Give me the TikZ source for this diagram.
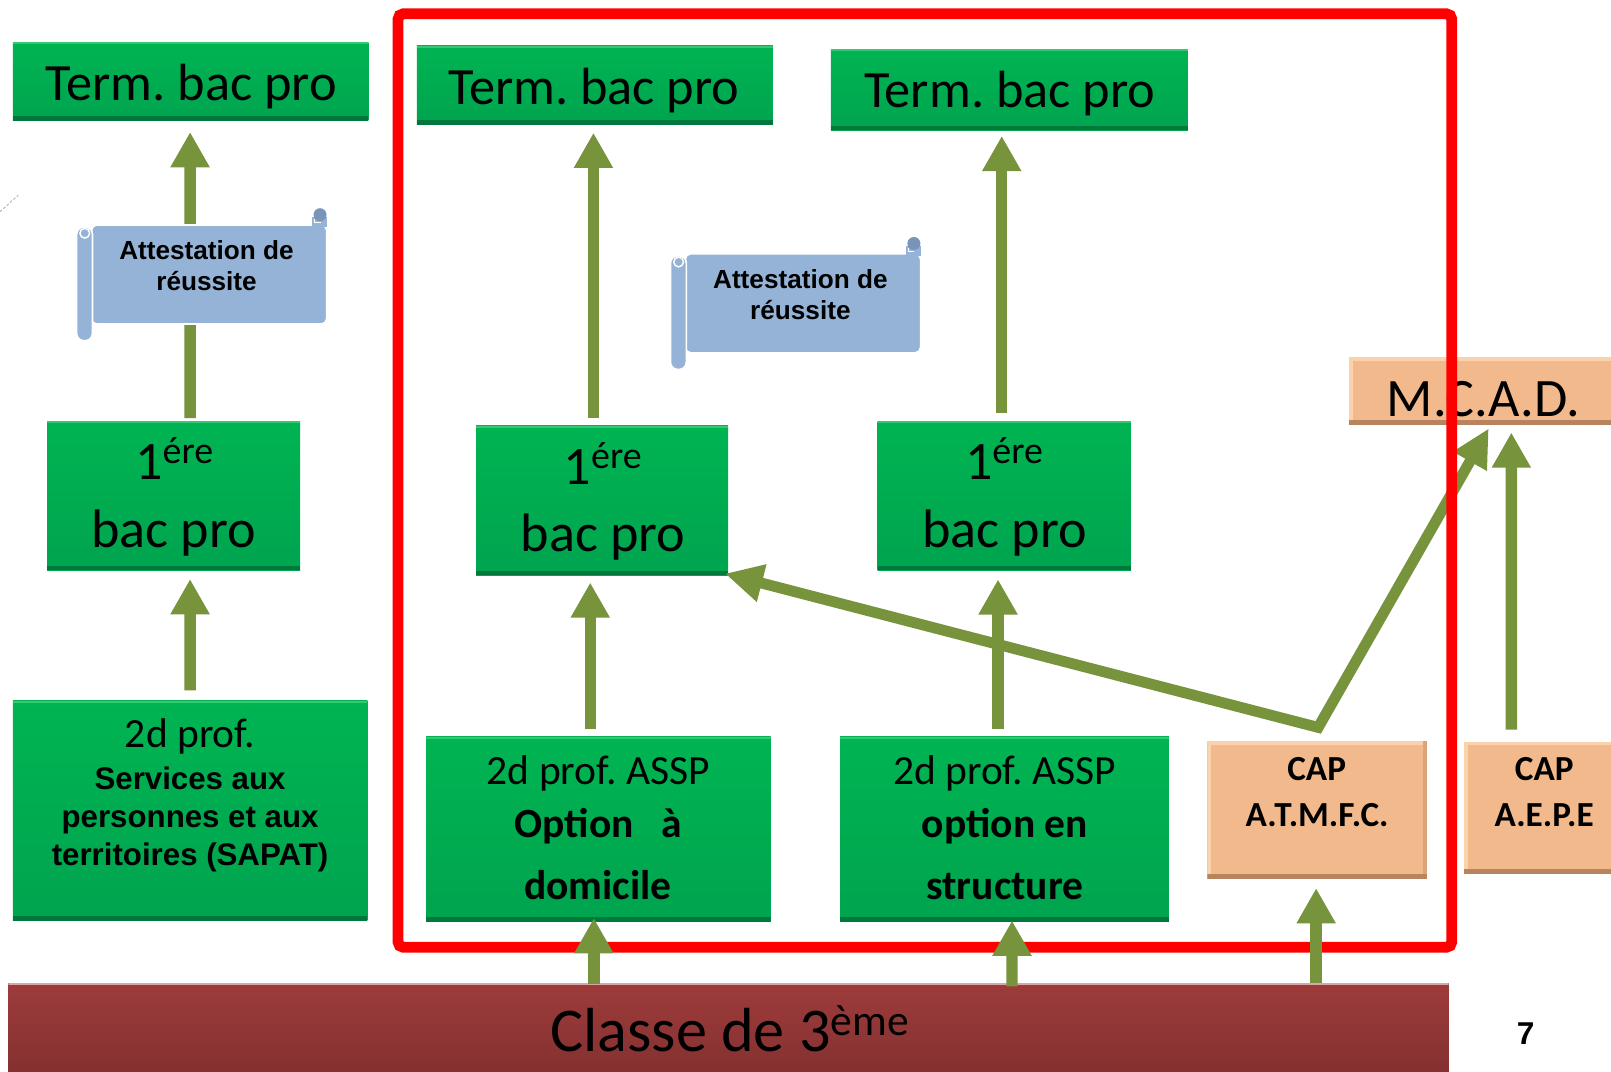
\documentclass[tikz,border=0pt]{standalone}
\usepackage{fontspec}
\setmainfont{Carlito}
\newfontfamily\arialf{Liberation Sans}
\usetikzlibrary{arrows.meta,calc}
\frenchspacing

\definecolor{gtop}{HTML}{00B452}
\definecolor{gmid}{HTML}{00A44F}
\definecolor{gdark}{HTML}{00773B}
\definecolor{glight}{HTML}{35C873}
\definecolor{olive}{HTML}{77933C}
\definecolor{peach}{HTML}{F2BA8C}
\definecolor{peachlight}{HTML}{FAD2AC}
\definecolor{peachmid}{HTML}{DDA479}
\definecolor{peachdark}{HTML}{B8845F}
\definecolor{scrollblue}{HTML}{95B3D7}
\definecolor{curlblue}{HTML}{7A93B8}
\definecolor{classetop}{HTML}{9E3B3B}
\definecolor{classebot}{HTML}{823030}
\definecolor{classeline}{HTML}{D8A6A6}
\definecolor{framered}{HTML}{FF0000}

\tikzset{
  greenbox/.style={draw=none, inner sep=0pt, outer sep=0pt, fill=gmid,
    path picture={
      \shade[top color=gtop, bottom color=gmid] (path picture bounding box.south west) rectangle (path picture bounding box.north east);
      \fill[gdark] (path picture bounding box.south west) rectangle ([yshift=2.5pt]path picture bounding box.south east);
      \fill[glight] (path picture bounding box.north west) rectangle ([yshift=-1.2pt]path picture bounding box.north east);
    }},
  peachbox/.style={draw=none, inner sep=0pt, outer sep=0pt, fill=peach,
    path picture={
      \fill[peachlight] (path picture bounding box.north west) rectangle ([yshift=-2pt]path picture bounding box.north east);
      \fill[peachlight] (path picture bounding box.north west) rectangle ([xshift=2pt]path picture bounding box.south west);
      \fill[peachmid] ([xshift=-2.5pt]path picture bounding box.north east) rectangle (path picture bounding box.south east);
      \fill[peachdark] (path picture bounding box.south west) rectangle ([yshift=3pt]path picture bounding box.south east);
    }},
  classebox/.style={draw=none, inner sep=0pt, outer sep=0pt, fill=classetop,
    path picture={
      \shade[top color=classetop, bottom color=classebot] (path picture bounding box.south west) rectangle (path picture bounding box.north east);
      \fill[classeline] (path picture bounding box.north west) rectangle ([yshift=-1pt]path picture bounding box.north east);
    }},
  uparr/.style={draw=olive, line width=6.3pt, -{Triangle[length=19.5pt,width=20.4pt]}},
  diagarr/.style={draw=olive, line width=6pt, line join=miter,
    {Triangle[length=21pt,width=20pt]}-{Triangle[length=21pt,width=20pt]}},
  lbl/.style={inner sep=0pt, outer sep=0pt, anchor=base},
  termtxt/.style={lbl, font=\fontsize{29}{35}\selectfont},
  eretxt/.style={lbl, font=\fontsize{30}{36}\selectfont},
  sectxt/.style={lbl, font=\fontsize{23}{28}\selectfont},
  secbold/.style={lbl, font=\bfseries\fontsize{23}{28}\selectfont},
  sapattxt/.style={lbl, font=\arialf\bfseries\fontsize{17.3}{21}\selectfont},
  atttxt/.style={lbl, font=\arialf\bfseries\fontsize{14.5}{17}\selectfont},
  captxt/.style={lbl, font=\bfseries\fontsize{19.5}{23}\selectfont},
  mcadtxt/.style={lbl, font=\fontsize{30}{36}\selectfont},
  classetxt/.style={lbl, font=\fontsize{34.5}{40}\selectfont},
  pagetxt/.style={lbl, font=\arialf\bfseries\fontsize{17.5}{20}\selectfont},
}

\newcommand\drawscroll[3]{%
  \begin{scope}[shift={(#1,#2)}]
    \filldraw[scrollblue, draw=white, line width=0.9pt, rounded corners=3pt] (89,219) rectangle (318,315.4);
    \fill[scrollblue] (304,211) rectangle (318,221);
    \fill[curlblue] (311.5,209) circle[radius=3.6pt];
    \draw[white, line width=0.6pt] (306,213) -- (306,217) -- (312,217);
    \filldraw[scrollblue, draw=white, line width=0.9pt, rounded corners=4pt] (74.6,221) rectangle (90,331.6);
    \draw[white, line width=0.8pt] (82.5,227) circle[radius=2.7pt];
    \node[atttxt] (#3a) at (201,253) {Attestation de};
    \node[atttxt] (#3b) at (201,283) {réussite};
  \end{scope}}

\begin{document}
\begin{tikzpicture}[x=0.02cm,y=-0.02cm]
\useasboundingbox (0,0) rectangle (1568,1043);
\fill[white] (0,0) rectangle (1568,1043);
\begin{scope}
\clip (0,0) rectangle (1568,1043);

% boxes
\node[greenbox, minimum width=6.922cm, minimum height=1.534cm] (t1) at (185.5,79.4) {};
\node[greenbox, minimum width=6.934cm, minimum height=1.534cm] (t2) at (579,83) {};
\node[greenbox, minimum width=6.95cm, minimum height=1.578cm] (t3) at (982.5,87.2) {};
\node[greenbox, minimum width=4.926cm, minimum height=2.906cm] (e1) at (168.9,482.4) {};
\node[greenbox, minimum width=4.906cm, minimum height=2.912cm] (e2) at (586,487) {};
\node[greenbox, minimum width=4.932cm, minimum height=2.906cm] (e3) at (977.5,482.4) {};
\node[greenbox, minimum width=6.9cm, minimum height=4.28cm] (s1) at (185,789) {};
\node[greenbox, minimum width=6.706cm, minimum height=3.6cm] (s2) at (582.4,807) {};
\node[greenbox, minimum width=6.4cm, minimum height=3.6cm] (s3) at (977.7,807) {};
\node[peachbox, minimum width=4.28cm, minimum height=2.692cm] (cap1) at (1282,788.6) {};
\node[peachbox, minimum width=3.126cm, minimum height=2.574cm] (cap2) at (1503,786.4) {};
\node[peachbox, minimum width=5.232cm, minimum height=1.324cm] (mcad) at (1443.8,380.6) {};
\node[classebox, minimum width=28.04cm, minimum height=1.86cm] (classe) at (709,1003.5) {};

% labels
\node[termtxt] (t1l) at (186,97.5) {Term. bac pro};
\node[termtxt] (t2l) at (578,101.5) {Term. bac pro};
\node[termtxt] (t3l) at (982.6,104.3) {Term. bac pro};
\node[eretxt] (e1a) at (170,467) {1\textsuperscript{ére}};
\node[eretxt] (e1b) at (169,532.7) {bac pro};
\node[eretxt] (e2a) at (587,472) {1\textsuperscript{ére}};
\node[eretxt] (e2b) at (587,536.5) {bac pro};
\node[eretxt] (e3a) at (977.6,467) {1\textsuperscript{ére}};
\node[eretxt] (e3b) at (977.6,532.7) {bac pro};
\node[sectxt] (s1a) at (185,728) {2d prof.};
\node[sapattxt] (s1b) at (185,768) {Services aux};
\node[sapattxt] (s1c) at (185,805) {personnes et aux};
\node[sapattxt] (s1d) at (185,842) {territoires (SAPAT)};
\node[sectxt] (s2a) at (582.5,764) {2d prof. ASSP};
\node[secbold] (s2b) at (582.5,814.7) {Option\hspace{0.45em} à};
\node[secbold] (s2c) at (582,875) {domicile};
\node[sectxt] (s3a) at (978,764) {2d prof. ASSP};
\node[secbold] (s3b) at (978,814.7) {option en};
\node[secbold] (s3c) at (978,875) {structure};
\node[captxt] (cap1a) at (1281.5,760) {CAP};
\node[captxt] (cap1b) at (1282,804) {A.T.M.F.C.};
\node[captxt] (cap2a) at (1503,760) {CAP};
\node[captxt] (cap2b) at (1503,804) {A.E.P.E};
\node[mcadtxt] (mcadl) at (1443.8,405) {M.C.A.D.};
\node[classetxt] (classel) at (710.5,1023.6) {Classe de 3\textsuperscript{ème}};

% connectors
\coordinate (J) at ($(cap1.north)+(1,-13.3)$);
\draw[diagarr] ($(e2.south east)+(-3,-1.5)$) -- (J) -- ($(mcad.south)+(5.2,3.3)$);
\draw[uparr] ($(e1.north)+(16.1,-2.7)$) -- ($(t1.south)+(-0.5,10.8)$);
\draw[uparr] ($(s1.north)+(0,-10)$) -- ($(e1.south)+(16.1,8.6)$);
\draw[uparr] ($(e2.north)+(-8.4,-7.2)$) -- ($(t2.south)+(-1.4,7.9)$);
\draw[uparr] ($(s2.north)+(-7.9,-7.4)$) -- ($(e2.south)+(-11.5,7.2)$);
\draw[uparr] ($(e3.north)+(-2.5,-8.2)$) -- ($(t3.south)+(-7.5,5.7)$);
\draw[uparr] ($(s3.north)+(-6.3,-7.4)$) -- ($(e3.south)+(-6.1,8.9)$);
\draw[uparr] ($(cap2.north)+(-32,-12)$) -- ($(mcad.south)+(27.2,7.3)$);

% scrolls
\drawscroll{0}{0}{sca}
\drawscroll{578}{28}{scb}

% red frame
\draw[framered, line width=6pt, rounded corners=3pt] (387.4,13.4) rectangle (1413,922);

% arrows from Classe de 3eme
\draw[uparr] ($(classe.north)+(-131,0.9)$) -- ($(s2.south)+(-4.4,-3.4)$);
\draw[uparr] ($(classe.north)+(276,3)$) -- ($(s3.south)+(7.3,-1)$);
\draw[uparr] ($(classe.north)+(572,-0.5)$) -- ($(cap1.south)+(-1,8.6)$);

% page number and fragment
\node[pagetxt] (pagenum) at (1485,1017) {7};
\draw[gray!60, line width=0.5pt, dash pattern=on 1.5pt off 1pt] (0,206) -- (17.8,190);
\end{scope}
\end{tikzpicture}
\end{document}
